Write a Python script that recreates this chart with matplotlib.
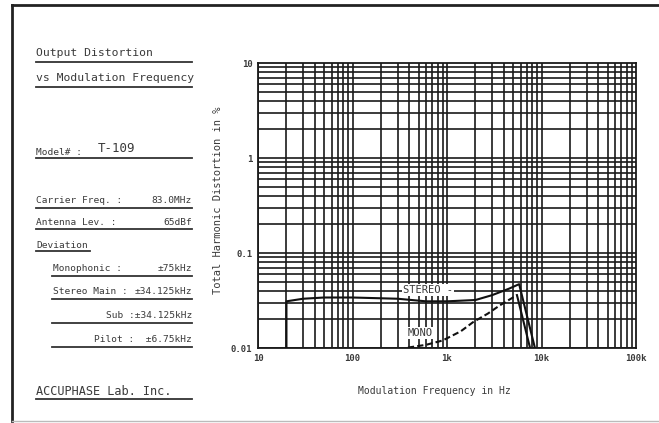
import matplotlib
matplotlib.use("Agg")
import matplotlib.pyplot as plt
from matplotlib.lines import Line2D
import numpy as np

# ---- data ----
stereo_freq = [20, 20, 30, 50, 100, 300, 600, 1000, 2000, 3000, 4500, 5800, 8500]
stereo_thd = [0.0101, 0.031, 0.033, 0.034, 0.034, 0.033, 0.031, 0.031, 0.032, 0.036, 0.042, 0.047, 0.0101]
mono_freq = [386, 600, 900, 1400, 1900, 2700, 3600, 4500, 5500]
mono_thd = [0.0101, 0.0108, 0.012, 0.015, 0.0188, 0.023, 0.028, 0.032, 0.036]
mono_drop_freq = [5500, 7550]
mono_drop_thd = [0.036, 0.0101]
x_ticks = [10, 100, 1000, 10000, 100000]
x_labels = ["10", "100", "1k", "10k", "100k"]
y_ticks = [0.01, 0.1, 1, 10]
y_labels = ["0.01", "0.1", "1", "10"]

FONT = "DejaVu Sans Mono"
INK = "#3a3a3a"

W, H = 659, 423
fig = plt.figure(figsize=(W / 100, H / 100), dpi=100)
fig.patch.set_facecolor("white")

def fx(px):
    return px / W

def fy(py):
    return 1 - py / H

ax = fig.add_axes([fx(258), fy(348), fx(636) - fx(258), fy(63) - fy(348)])
ax.set_xscale("log")
ax.set_yscale("log")
ax.set_xlim(10, 100000)
ax.set_ylim(0.01, 10)

# grid lines (major + minor all dark)
for dec in [10, 100, 1000, 10000]:
    for m in range(1, 10):
        ax.axvline(dec * m, color="#1a1a1a", lw=1.2, zorder=1)
for dec in [0.01, 0.1, 1]:
    for m in range(1, 10):
        ax.axhline(dec * m, color="#1a1a1a", lw=1.2, zorder=1)
for s in ax.spines.values():
    s.set_color("#1a1a1a")
    s.set_linewidth(1.3)

ax.set_xticks(x_ticks)
ax.set_xticklabels(x_labels, fontfamily=FONT, fontsize=6.5, color=INK, fontweight="bold")
ax.set_yticks(y_ticks)
ax.set_yticklabels(y_labels, fontfamily=FONT, fontsize=6.5, color=INK, fontweight="bold")
ax.xaxis.set_minor_locator(matplotlib.ticker.NullLocator())
ax.yaxis.set_minor_locator(matplotlib.ticker.NullLocator())
ax.tick_params(length=0, pad=4)

# curves
ax.plot(stereo_freq, stereo_thd, color="#111111", lw=1.5, zorder=3)
ax.plot(mono_freq, mono_thd, color="#111111", lw=1.5, ls=(0, (3, 1.5)), zorder=3)
ax.plot(mono_drop_freq, mono_drop_thd, color="#111111", lw=1.5, zorder=3)

ax.text(630, 0.0408, "STEREO -", fontfamily=FONT, fontsize=7.5, color=INK,
        ha="center", va="center", zorder=4,
        bbox=dict(facecolor="white", edgecolor="none", pad=1))
ax.text(518, 0.0144, "MONO", fontfamily=FONT, fontsize=7.5, color=INK,
        ha="center", va="center", zorder=4,
        bbox=dict(facecolor="white", edgecolor="none", pad=1))

fig.text(fx(218), fy(200), "Total Harmonic Distortion in %", rotation=90,
         fontfamily=FONT, fontsize=7.5, color=INK, ha="center", va="center")
fig.text(fx(434), fy(391), "Modulation Frequency in Hz",
         fontfamily=FONT, fontsize=7, color=INK, ha="center", va="center")

# left panel texts
def ltext(px, py, s, size=7, ha="left"):
    fig.text(fx(px), fy(py), s, fontfamily=FONT, fontsize=size, color=INK,
             ha=ha, va="center")

def uline(x0, x1, py, lw=1.3):
    fig.add_artist(Line2D([fx(x0), fx(x1)], [fy(py), fy(py)], color="#333333", lw=lw))

ltext(36, 53, "Output Distortion", size=8.2)
uline(36, 192, 62)
ltext(36, 78, "vs Modulation Frequency", size=8.2)
uline(36, 192, 87)

ltext(36, 152, "Model# :", size=6.8)
ltext(98, 149, "T-109", size=9)
uline(36, 192, 158)

ltext(36, 200, "Carrier Freq. :", size=6.8)
ltext(192, 200, "83.0MHz", size=6.8, ha="right")
uline(36, 192, 208)
ltext(36, 222, "Antenna Lev. :", size=6.8)
ltext(192, 222, "65dBf", size=6.8, ha="right")
uline(36, 192, 229)
ltext(36, 245, "Deviation", size=6.8)
uline(36, 90, 251)

ltext(53, 268, "Monophonic :", size=6.8)
ltext(192, 268, "\u00b175kHz", size=6.8, ha="right")
uline(52, 192, 276)
ltext(53, 292, "Stereo Main :", size=6.8)
ltext(192, 292, "\u00b134.125kHz", size=6.8, ha="right")
uline(52, 192, 299)
ltext(192, 316, "Sub :\u00b134.125kHz", size=6.8, ha="right")
uline(52, 192, 323)
ltext(192, 339, "Pilot :  \u00b16.75kHz", size=6.8, ha="right")
uline(52, 192, 347)

ltext(36, 391, "ACCUPHASE Lab. Inc.", size=8.6)
uline(36, 192, 399)

# outer frame
fig.add_artist(Line2D([fx(12), 1.0], [fy(5.5), fy(5.5)], color="#222222", lw=2))
fig.add_artist(Line2D([fx(12), fx(12)], [fy(5), fy(421)], color="#222222", lw=2))
fig.add_artist(Line2D([fx(12), 1.0], [fy(421), fy(421)], color="#bbbbbb", lw=1))

fig.savefig("out.png", dpi=100, facecolor="white")
